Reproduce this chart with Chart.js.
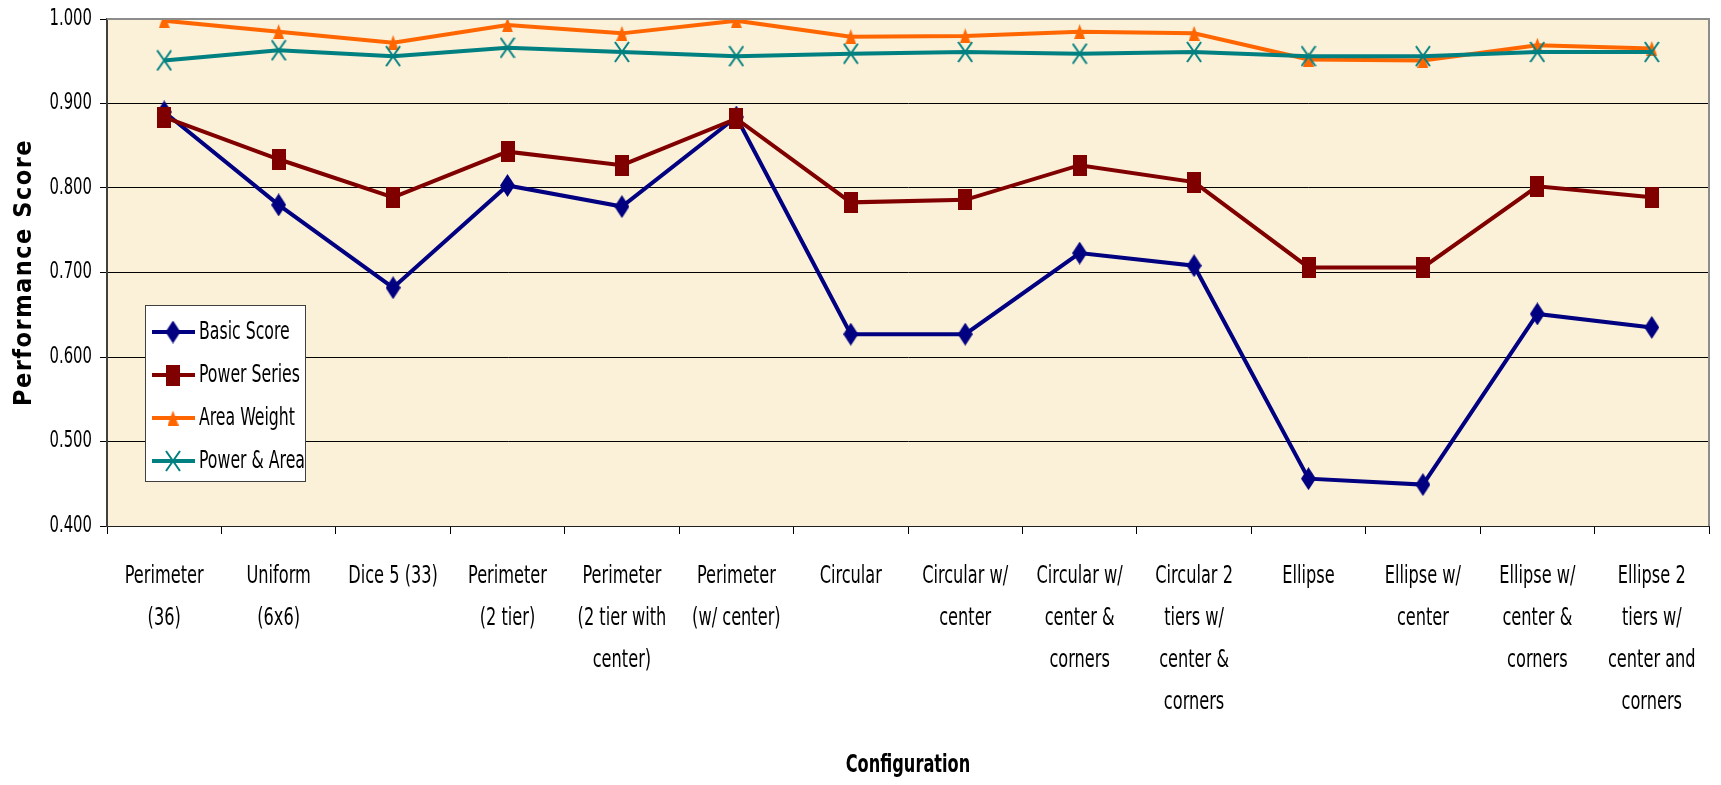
<!DOCTYPE html>
<html>
<head>
<meta charset="utf-8">
<title>Performance Score by Configuration</title>
<script src="https://cdn.jsdelivr.net/npm/chart.js@4/dist/chart.umd.min.js"></script>
<style>
  html, body { margin: 0; padding: 0; background: #ffffff; }
  #wrap { width: 1721px; height: 785px; }
</style>
</head>
<body>
<div id="wrap"><canvas id="chart" width="1721" height="785"></canvas></div>
<script>
// Configurations along the x axis (one array entry per label line)
const configurations = [
  ["Perimeter", "(36)"],
  ["Uniform", "(6x6)"],
  ["Dice 5 (33)"],
  ["Perimeter", "(2 tier)"],
  ["Perimeter", "(2 tier with", "center)"],
  ["Perimeter", "(w/ center)"],
  ["Circular"],
  ["Circular w/", "center"],
  ["Circular w/", "center &", "corners"],
  ["Circular 2", "tiers w/", "center &", "corners"],
  ["Ellipse"],
  ["Ellipse w/", "center"],
  ["Ellipse w/", "center &", "corners"],
  ["Ellipse 2", "tiers w/", "center and", "corners"]
];

// Scores per configuration
const basicScore   = [0.890, 0.780, 0.682, 0.803, 0.778, 0.884, 0.627, 0.627, 0.723, 0.708, 0.456, 0.449, 0.651, 0.635];
const powerSeries  = [0.884, 0.834, 0.789, 0.843, 0.827, 0.882, 0.783, 0.786, 0.827, 0.807, 0.706, 0.706, 0.802, 0.789];
const areaWeight   = [0.998, 0.985, 0.972, 0.993, 0.983, 0.998, 0.979, 0.980, 0.985, 0.983, 0.952, 0.951, 0.969, 0.965];
const powerAndArea = [0.951, 0.963, 0.956, 0.966, 0.961, 0.956, 0.959, 0.961, 0.959, 0.961, 0.956, 0.956, 0.961, 0.961];

const seriesNames = ["Basic Score", "Power Series", "Area Weight", "Power & Area"];
const yTitle = "Performance Score";
const xTitle = "Configuration";

const FONT = "'Liberation Sans Narrow', 'DejaVu Sans Condensed', 'Arial Narrow', sans-serif";
const TEXT_STRETCH = 1.38;   // tall, narrow lettering

const canvas = document.getElementById('chart');
const context = canvas.getContext('2d');

// Horizontal text is drawn vertically stretched around its anchor point.
const rawFillText = context.fillText;
context.fillText = function (text, x, y, maxWidth) {
  this.save();
  this.translate(x, y);
  this.scale(1, TEXT_STRETCH);
  if (maxWidth === undefined) rawFillText.call(this, text, 0, 0);
  else rawFillText.call(this, text, 0, 0, maxWidth);
  this.restore();
};

// ---- marker images (taller than wide) ----
function makeMarker(w, h, draw) {
  const c = document.createElement('canvas');
  c.width = w; c.height = h;
  const g = c.getContext('2d');
  draw(g, w, h);
  return c;
}
const diamond = makeMarker(15, 23, (g, w, h) => {
  g.fillStyle = '#000080';
  g.beginPath(); g.moveTo(w / 2, 0); g.lineTo(w, h / 2); g.lineTo(w / 2, h); g.lineTo(0, h / 2); g.closePath(); g.fill();
});
const square = makeMarker(14, 21, (g, w, h) => {
  g.fillStyle = '#800000'; g.fillRect(0, 0, w, h);
});
const triangle = makeMarker(11, 15, (g, w, h) => {
  g.fillStyle = '#FF6600';
  g.beginPath(); g.moveTo(w / 2, 0); g.lineTo(w, h); g.lineTo(0, h); g.closePath(); g.fill();
});
const cross = makeMarker(16, 22, (g, w, h) => {
  g.strokeStyle = '#008080'; g.lineWidth = 2;
  g.beginPath(); g.moveTo(1, 1); g.lineTo(w - 1, h - 1); g.moveTo(w - 1, 1); g.lineTo(1, h - 1); g.stroke();
});

// ---- plot background and frame ----
const plotFrame = {
  id: 'plotFrame',
  beforeDraw(chart) {
    const a = chart.chartArea, ctx = chart.ctx;
    ctx.save();
    ctx.fillStyle = '#FBF0D8';
    ctx.fillRect(a.left, a.top, a.right - a.left, a.bottom - a.top);
    ctx.restore();
  },
  afterDraw(chart) {
    const a = chart.chartArea, ctx = chart.ctx;
    ctx.save();
    ctx.strokeStyle = '#8c8c8c';
    ctx.lineWidth = 2;
    ctx.beginPath();
    ctx.moveTo(a.left, a.top); ctx.lineTo(a.right, a.top); ctx.lineTo(a.right, a.bottom);
    ctx.stroke();
    ctx.restore();
  }
};

// ---- axis titles (spaced lettering on the y title) ----
const axisTitles = {
  id: 'axisTitles',
  afterDraw(chart) {
    const a = chart.chartArea, ctx = chart.ctx;
    ctx.save();
    ctx.fillStyle = '#000';
    ctx.textAlign = 'center';
    ctx.textBaseline = 'middle';
    ctx.font = 'bold 25px ' + FONT;
    ctx.letterSpacing = '1.5px';
    ctx.translate(24, (a.top + a.bottom) / 2);
    ctx.rotate(-Math.PI / 2);
    rawFillText.call(ctx, yTitle, 0, 0);
    ctx.restore();

    ctx.save();
    ctx.fillStyle = '#000';
    ctx.textAlign = 'center';
    ctx.textBaseline = 'middle';
    ctx.font = 'bold 18px ' + FONT;
    ctx.fillText(xTitle, (a.left + a.right) / 2, 766);
    ctx.restore();
  }
};

// ---- boxed legend inside the plot ----
const boxLegend = {
  id: 'boxLegend',
  afterDraw(chart) {
    const ctx = chart.ctx;
    const box = { x: 145, y: 305, w: 160, h: 176 };
    ctx.save();
    ctx.fillStyle = '#ffffff';
    ctx.fillRect(box.x, box.y, box.w, box.h);
    ctx.strokeStyle = '#404040';
    ctx.lineWidth = 1;
    ctx.strokeRect(box.x + 0.5, box.y + 0.5, box.w, box.h);
    ctx.font = '17.5px ' + FONT;
    ctx.textAlign = 'left';
    ctx.textBaseline = 'middle';
    chart.data.datasets.forEach((ds, i) => {
      const cy = box.y + 27 + i * 43;
      ctx.strokeStyle = ds.borderColor;
      ctx.lineWidth = 4;
      ctx.beginPath(); ctx.moveTo(152, cy); ctx.lineTo(195, cy); ctx.stroke();
      const img = ds.pointStyle;
      ctx.drawImage(img, 173 - img.width / 2, cy - img.height / 2);
      ctx.fillStyle = '#000';
      ctx.fillText(ds.label, 199, cy + 1);
    });
    ctx.restore();
  }
};

const datasets = [
  { label: seriesNames[0], data: basicScore,   borderColor: '#000080', pointStyle: diamond,  order: 4 },
  { label: seriesNames[1], data: powerSeries,  borderColor: '#800000', pointStyle: square,   order: 3 },
  { label: seriesNames[2], data: areaWeight,   borderColor: '#FF6600', pointStyle: triangle, order: 2 },
  { label: seriesNames[3], data: powerAndArea, borderColor: '#008080', pointStyle: cross,    order: 1 }
].map(d => Object.assign({
  borderWidth: 4,
  backgroundColor: d.borderColor,
  pointRadius: 8,
  pointHoverRadius: 8,
  tension: 0,
  fill: false
}, d));

new Chart(canvas, {
  type: 'line',
  data: { labels: configurations, datasets },
  options: {
    responsive: false,
    animation: false,
    layout: { padding: { top: 19, right: 10, left: 0, bottom: 0 } },
    plugins: {
      legend: { display: false },
      tooltip: { enabled: false }
    },
    scales: {
      x: {
        type: 'category',
        offset: true,
        afterFit(scale) { scale.height = 259; },
        grid: {
          offset: true,
          drawOnChartArea: false,
          drawTicks: true,
          tickLength: 8,
          tickColor: '#000',
          tickWidth: 1
        },
        border: { display: true, color: '#202020', width: 1 },
        ticks: {
          autoSkip: false,
          minRotation: 0,
          maxRotation: 0,
          padding: 22,
          color: '#000',
          font: { family: FONT, size: 18, lineHeight: 2.32 }
        }
      },
      y: {
        min: 0.4,
        max: 1.0,
        afterFit(scale) { scale.width = 107; },
        grid: {
          color: ctx => (ctx.tick && ctx.tick.value >= 0.999) ? 'rgba(0,0,0,0)' : '#000',
          lineWidth: 1,
          drawTicks: true,
          tickLength: 7,
          tickColor: '#000'
        },
        border: { display: true, color: '#404040', width: 2 },
        ticks: {
          stepSize: 0.1,
          padding: 8,
          color: '#000',
          font: { family: FONT, size: 16.5 },
          callback: v => Number(v).toFixed(3)
        }
      }
    }
  },
  plugins: [plotFrame, axisTitles, boxLegend]
});
</script>
</body>
</html>
